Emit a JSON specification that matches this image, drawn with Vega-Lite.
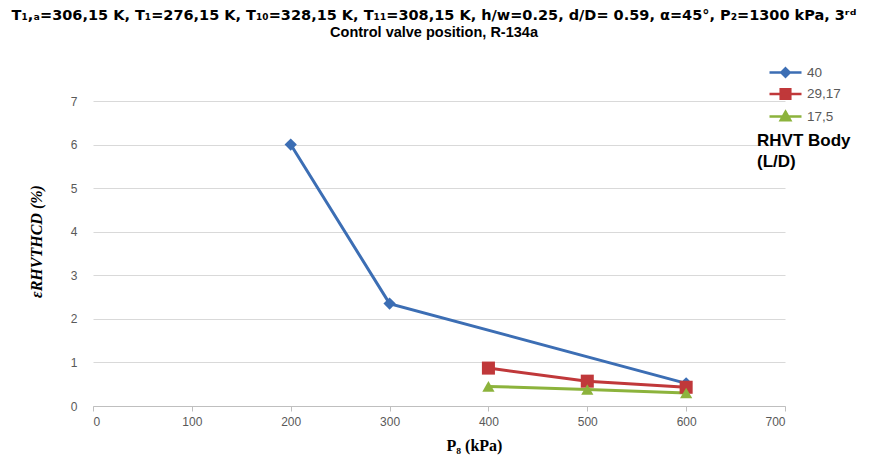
{
  "$schema": "https://vega.github.io/schema/vega-lite/v6.json",
  "autosize": {"type": "none"},
  "width": 692,
  "height": 305,
  "padding": {"left": 93, "top": 101, "right": 84, "bottom": 58},
  "background": "white",
  "title": {
    "text": "T₁,ₐ=306,15 K, T₁=276,15 K, T₁₀=328,15 K, T₁₁=308,15 K, h/w=0.25, d/D= 0.59, α=45°, P₂=1300 kPa, 3ʳᵈ",
    "subtitle": "Control valve position, R-134a",
    "font": "DejaVu Sans",
    "fontSize": 14.5,
    "fontWeight": "bold",
    "color": "#000000",
    "subtitleFont": "Liberation Sans",
    "subtitleFontSize": 14.5,
    "subtitleFontWeight": "bold",
    "subtitleColor": "#000000",
    "subtitlePadding": 2,
    "anchor": "middle",
    "offset": 21,
    "dx": -5
  },
  "config": {
    "view": {"stroke": null},
    "axis": {"labelFont": "Liberation Sans", "labelColor": "#595959", "labelFontSize": 12}
  },
  "data": {
    "values": [
      {"P8": 200, "eps": 6.0, "LD": "40"},
      {"P8": 300, "eps": 2.35, "LD": "40"},
      {"P8": 600, "eps": 0.52, "LD": "40"},
      {"P8": 400, "eps": 0.87, "LD": "29,17"},
      {"P8": 500, "eps": 0.57, "LD": "29,17"},
      {"P8": 600, "eps": 0.43, "LD": "29,17"},
      {"P8": 400, "eps": 0.45, "LD": "17,5"},
      {"P8": 500, "eps": 0.38, "LD": "17,5"},
      {"P8": 600, "eps": 0.3, "LD": "17,5"}
    ]
  },
  "encoding": {
    "x": {
      "field": "P8", "type": "quantitative",
      "scale": {"domain": [0, 700], "nice": false},
      "axis": {
        "values": [0, 100, 200, 300, 400, 500, 600, 700],
        "grid": false,
        "domainColor": "#bfbfbf",
        "tickColor": "#bfbfbf",
        "tickSize": 5,
        "labelPadding": 5,
        "title": "P₈ (kPa)",
        "titleFont": "Liberation Serif",
        "titleFontSize": 16,
        "titleFontWeight": "bold",
        "titleColor": "#000000",
        "titleX": 381,
        "titleAlign": "center",
        "titlePadding": 10
      }
    },
    "y": {
      "field": "eps", "type": "quantitative",
      "scale": {"domain": [0, 7], "nice": false},
      "axis": {
        "values": [0, 1, 2, 3, 4, 5, 6, 7],
        "domain": false,
        "ticks": false,
        "gridColor": "#d9d9d9",
        "labelPadding": 16,
        "title": "εRHVTHCD (%)",
        "titleFont": "Liberation Serif",
        "titleFontSize": 16,
        "titleFontStyle": "italic",
        "titleFontWeight": "bold",
        "titleColor": "#000000",
        "titlePadding": 26,
        "titleY": 140,
        "titleAlign": "center"
      }
    },
    "color": {
      "field": "LD", "type": "nominal",
      "scale": {"domain": ["40", "29,17", "17,5"], "range": ["#3C6EB4", "#C0383A", "#8CB33C"]},
      "legend": {
        "orient": "none",
        "legendX": 664,
        "legendY": -40,
        "title": ["RHVT Body", "(L/D)"],
        "titleOrient": "bottom",
        "titleFont": "Liberation Sans",
        "titleFontSize": 17,
        "titleFontWeight": "bold",
        "titleColor": "#000000",
        "titleLineHeight": 21,
        "titlePadding": 8,
        "labelFont": "Liberation Sans",
        "labelFontSize": 13.5,
        "labelColor": "#595959",
        "labelOffset": 10,
        "rowPadding": 0.5,
        "symbolOffset": 17,
        "symbolSize": 400,
        "symbolStrokeWidth": 2.5,
        "encode": {
          "symbols": {
            "update": {
              "shape": {"signal": "datum.value == '40' ? 'M-1.6,0H1.6M0,-0.42L0.42,0L0,0.42L-0.42,0Z' : datum.value == '29,17' ? 'M-1.6,0H1.6M-0.48,-0.48H0.48V0.48H-0.48Z' : 'M-1.6,0H1.6M0,-0.48L0.48,0.38H-0.48Z'"},
              "fill": {"scale": "color", "field": "value"},
              "stroke": {"scale": "color", "field": "value"},
              "opacity": {"value": 1}
            }
          }
        }
      }
    }
  },
  "layer": [
    {
      "mark": {"type": "line", "strokeWidth": 3},
      "encoding": {"detail": {"field": "LD"}}
    },
    {
      "transform": [{"filter": "datum.LD == '40'"}],
      "mark": {"type": "point", "shape": "diamond", "size": 150, "filled": true, "opacity": 1}
    },
    {
      "transform": [{"filter": "datum.LD == '29,17'"}],
      "mark": {"type": "point", "shape": "square", "size": 170, "filled": true, "opacity": 1}
    },
    {
      "transform": [{"filter": "datum.LD == '17,5'"}],
      "mark": {"type": "point", "shape": "triangle-up", "size": 150, "filled": true, "opacity": 1}
    }
  ]
}
